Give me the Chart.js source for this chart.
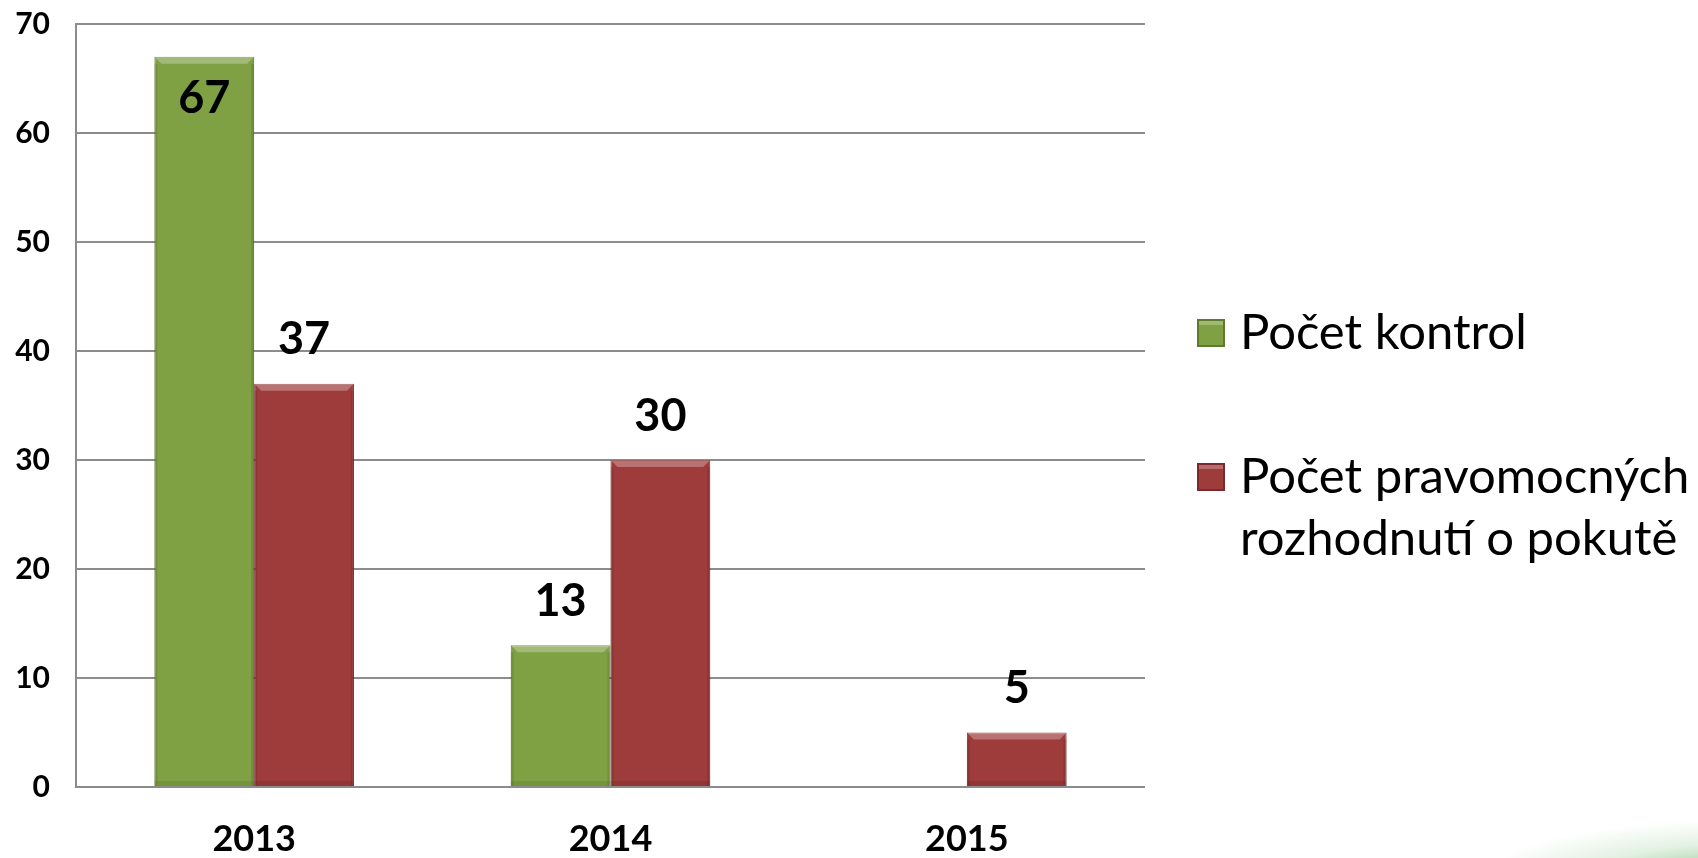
<!DOCTYPE html>
<html>
<head>
<meta charset="utf-8">
<script src="https://cdn.jsdelivr.net/npm/chart.js@4/dist/chart.umd.min.js"></script>
<style>
  html, body { margin: 0; padding: 0; background: #fff; }
  body {
    width: 1698px; height: 858px; overflow: hidden;
    background: radial-gradient(ellipse 260px 60px at 1740px 880px, rgba(90,170,90,0.75), rgba(140,200,140,0.25) 60%, rgba(255,255,255,0) 100%), #fff;
  }
  #wrap { position: absolute; left: 0; top: 0; width: 1698px; height: 858px; }
</style>
</head>
<body>
<div id="wrap"><canvas id="barGraph"></canvas></div>
<script>
var years = ['2013', '2014', '2015'];
var kontrolValues = [67, 13, null];
var pokutaValues = [37, 30, 5];
var seriesNames = ['Počet kontrol', 'Počet pravomocných rozhodnutí o pokutě'];
var yTicks = [0, 10, 20, 30, 40, 50, 60, 70];

var green = '#7fa043';
var red = '#9e3b3b';

// bevel look: light top edge, darker sides
var bevel = {
	id: 'bevel',
	afterDatasetsDraw: function(chart) {
		var ctx = chart.ctx;
		ctx.save();
		chart.data.datasets.forEach(function(ds, di) {
			chart.getDatasetMeta(di).data.forEach(function(bar, i) {
				if (ds.data[i] === null) return;
				var l = bar.x - bar.width / 2, r = bar.x + bar.width / 2;
				var t = bar.y, b = bar.base, d = 7;
				ctx.fillStyle = 'rgba(255,255,255,0.28)';
				ctx.beginPath();
				ctx.moveTo(l, t); ctx.lineTo(r, t); ctx.lineTo(r - d, t + d); ctx.lineTo(l + d, t + d);
				ctx.closePath(); ctx.fill();
				ctx.fillStyle = 'rgba(0,0,0,0.10)';
				ctx.fillRect(l, t + d, 3, b - t - d);
				ctx.fillRect(r - 3, t + d, 3, b - t - d);
				ctx.fillStyle = 'rgba(0,0,0,0.08)';
				ctx.fillRect(l, b - 5, r - l, 5);
			});
		});
		ctx.restore();
	}
};

// value labels above bars (inside when there is no room)
var valueLabels = {
	id: 'valueLabels',
	afterDatasetsDraw: function(chart) {
		var ctx = chart.ctx;
		ctx.save();
		ctx.font = 'bold 45px Lato';
		ctx.fillStyle = '#000';
		ctx.textAlign = 'center';
		ctx.textBaseline = 'middle';
		chart.data.datasets.forEach(function(ds, di) {
			chart.getDatasetMeta(di).data.forEach(function(bar, i) {
				var v = ds.data[i];
				if (v === null) return;
				var y = bar.y - 44;
				if (y - 20 < chart.chartArea.top) y = bar.y + 42;
				ctx.fillText(v, bar.x, y);
			});
		});
		ctx.restore();
	}
};

// legend on the right, with wrapped labels
var sideLegend = {
	id: 'sideLegend',
	afterDraw: function(chart) {
		var ctx = chart.ctx;
		ctx.save();
		ctx.font = '49px Lato';
		ctx.textBaseline = 'middle';
		var lines = [['Počet kontrol'], ['Počet pravomocných', 'rozhodnutí o pokutě']];
		var startY = [333, 477];
		chart.data.datasets.forEach(function(ds, di) {
			var y = startY[di];
			ctx.fillStyle = ds.borderColor;
			ctx.fillRect(1197, y - 14, 28, 28);
			ctx.fillStyle = ds.backgroundColor;
			ctx.fillRect(1199, y - 12, 24, 24);
			ctx.fillStyle = 'rgba(255,255,255,0.25)';
			ctx.fillRect(1199, y - 12, 24, 4);
			ctx.fillStyle = '#000';
			lines[di].forEach(function(t, li) {
				ctx.fillText(t, 1240, y + li * 62);
			});
		});
		ctx.restore();
	}
};

var chartdata = {
	labels: years,
	datasets: [
		{
			label: seriesNames[0],
			data: kontrolValues,
			backgroundColor: green,
			borderColor: '#5f7a2e',
			borderWidth: 1
		},
		{
			label: seriesNames[1],
			data: pokutaValues,
			backgroundColor: red,
			borderColor: '#7a2a2a',
			borderWidth: 1
		}
	]
};

var options = {
	responsive: true,
	maintainAspectRatio: false,
	animation: false,
	layout: { padding: { left: 0, right: 553, top: 24, bottom: 0 } },
	plugins: {
		legend: { display: false },
		tooltip: { enabled: false }
	},
	datasets: {
		bar: { categoryPercentage: 0.56, barPercentage: 1.0 }
	},
	scales: {
		x: {
			grid: { display: false, drawTicks: false },
			border: { display: false },
			ticks: {
				color: '#000',
				font: { family: 'Lato', size: 36, weight: 'bold' },
				padding: 31
			},
			afterFit: function(s) { s.height = 71; s.paddingLeft = 0; s.paddingRight = 0; }
		},
		y: {
			min: 0,
			max: 70,
			afterBuildTicks: function(s) {
				s.ticks = yTicks.map(function(v) { return { value: v }; });
			},
			grid: { color: '#8c8c8c', lineWidth: 2, drawTicks: false },
			border: { display: true, color: '#8c8c8c', width: 2 },
			ticks: {
				color: '#000',
				font: { family: 'Lato', size: 30, weight: 'bold' },
				padding: 26
			},
			afterFit: function(s) { s.width = 76; s.paddingTop = 0; s.paddingBottom = 0; }
		}
	}
};

var ctx = document.getElementById('barGraph');
var barGraph = new Chart(ctx, {
	type: 'bar',
	data: chartdata,
	options: options,
	plugins: [bevel, valueLabels, sideLegend]
});
</script>
</body>
</html>
